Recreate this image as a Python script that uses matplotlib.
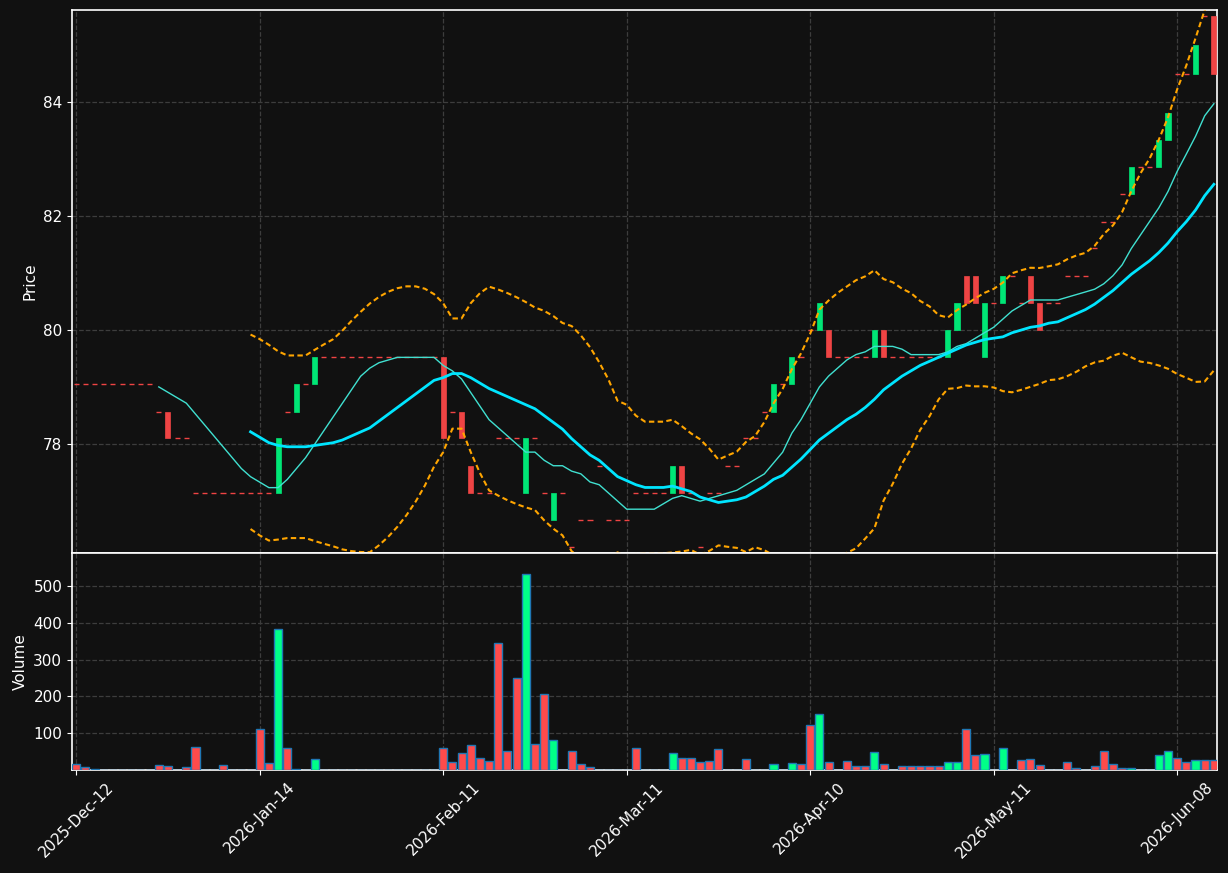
import numpy as np
import pandas as pd
import matplotlib
matplotlib.use("Agg")
import matplotlib.pyplot as plt
from matplotlib.patches import Rectangle

# trading calendar (weekdays minus exchange holidays)
start_date = "2025-12-12"
end_date = "2026-06-12"
holidays = ["2025-12-25", "2025-12-26", "2026-01-01", "2026-04-03", "2026-04-06", "2026-05-01"]

# prices, one row per 10 sessions
closes = [
    79.05, 79.05, 79.05, 79.05, 79.05, 79.05, 79.05, 79.05, 79.05, 78.57,
    78.10, 78.10, 78.10, 77.14, 77.14, 77.14, 77.14, 77.14, 77.14, 77.14,
    77.14, 77.14, 78.10, 78.57, 79.05, 79.05, 79.52, 79.52, 79.52, 79.52,
    79.52, 79.52, 79.52, 79.52, 79.52, 79.52, 79.52, 79.52, 79.52, 79.52,
    78.10, 78.57, 78.10, 77.14, 77.14, 77.14, 78.10, 78.10, 78.10, 78.10,
    78.10, 77.14, 77.14, 77.14, 76.19, 76.67, 76.67, 77.62, 76.67, 76.67,
    76.67, 77.14, 77.14, 77.14, 77.14, 77.62, 77.14, 77.14, 76.19, 77.14,
    77.14, 77.62, 77.62, 78.10, 78.10, 78.57, 79.05, 79.05, 79.52, 79.52,
    80.00, 80.48, 79.52, 79.52, 79.52, 79.52, 79.52, 80.00, 79.52, 79.52,
    79.52, 79.52, 79.52, 79.52, 79.52, 80.00, 80.48, 80.48, 80.48, 80.48,
    80.48, 80.95, 80.95, 80.48, 80.48, 80.00, 80.48, 80.48, 80.95, 80.95,
    80.95, 81.43, 81.90, 81.90, 82.38, 82.86, 82.86, 82.86, 83.33, 83.81,
    84.48, 84.48, 85.00, 85.50, 84.48,
]
opens = [
    79.05, 79.05, 79.05, 79.05, 79.05, 79.05, 79.05, 79.05, 79.05, 78.57,
    78.57, 78.10, 78.10, 77.14, 77.14, 77.14, 77.14, 77.14, 77.14, 77.14,
    77.14, 77.14, 77.14, 78.57, 78.57, 79.05, 79.05, 79.52, 79.52, 79.52,
    79.52, 79.52, 79.52, 79.52, 79.52, 79.52, 79.52, 79.52, 79.52, 79.52,
    79.52, 78.57, 78.57, 77.62, 77.14, 77.14, 78.10, 78.10, 78.10, 77.14,
    78.10, 77.14, 76.67, 77.14, 76.19, 76.67, 76.67, 77.62, 76.67, 76.67,
    76.67, 77.14, 77.14, 77.14, 77.14, 77.14, 77.62, 77.14, 76.19, 77.14,
    77.14, 77.62, 77.62, 78.10, 78.10, 78.57, 78.57, 79.05, 79.05, 79.52,
    80.00, 80.00, 80.00, 79.52, 79.52, 79.52, 79.52, 79.52, 80.00, 79.52,
    79.52, 79.52, 79.52, 79.52, 79.52, 79.52, 80.00, 80.95, 80.95, 79.52,
    80.48, 80.48, 80.95, 80.48, 80.95, 80.48, 80.48, 80.48, 80.95, 80.95,
    80.95, 81.43, 81.90, 81.90, 82.38, 82.38, 82.86, 82.86, 82.86, 83.33,
    84.48, 84.48, 84.48, 85.50, 85.50,
]
volumes = [
    16, 7, 4, 0, 0, 0, 0, 0, 0, 13,
    10, 1, 8, 62, 0, 0, 13, 0, 0, 0,
    111, 19, 383, 59, 4, 0, 30, 0, 0, 0,
    0, 0, 0, 1, 0, 0, 0, 1, 0, 0,
    59, 21, 46, 67, 32, 24, 344, 51, 249, 533,
    70, 206, 81, 1, 51, 16, 8, 1, 1, 0,
    0, 59, 0, 0, 0, 46, 32, 32, 21, 24,
    56, 0, 0, 30, 0, 1, 16, 0, 19, 16,
    122, 151, 21, 1, 24, 10, 10, 48, 16, 0,
    10, 10, 10, 10, 10, 21, 21, 111, 40, 43,
    1, 59, 1, 27, 30, 13, 0, 0, 21, 5,
    1, 10, 51, 16, 5, 5, 0, 0, 40, 53,
    32, 21, 27, 27, 27,
]

dates = pd.bdate_range(start_date, end_date, freq="C", holidays=holidays)
df = pd.DataFrame({"Open": opens, "Close": closes, "Volume": volumes}, index=dates)
df["ma10"] = df["Close"].rolling(10).mean()
df["ma20"] = df["Close"].rolling(20).mean()
std20 = df["Close"].rolling(20).std(ddof=0)
df["bb_up"] = df["ma20"] + 2 * std20
df["bb_lo"] = df["ma20"] - 2 * std20

BG = "#111111"
UP, DOWN = "#00e676", "#ef4444"
VUP, VDOWN = "#00ff88", "#ff4b4b"
GRID = "#3d3d3d"

fig = plt.figure(figsize=(12.28, 8.73), dpi=100, facecolor=BG)
W, H = 1228, 873
ax1 = fig.add_axes([72 / W, (H - 553) / H, 1145 / W, 543 / H])
ax2 = fig.add_axes([72 / W, (H - 770) / H, 1145 / W, 217 / H], sharex=ax1)

x = np.arange(len(df))
up = df["Close"].values > df["Open"].values
body_w = 0.55

for i in x:
    o, c = df["Open"].iat[i], df["Close"].iat[i]
    col = UP if up[i] else DOWN
    if o == c:
        ax1.hlines(c, i - body_w / 2, i + body_w / 2, color=col, lw=1.0, zorder=3)
    else:
        lo = min(o, c)
        ax1.add_patch(Rectangle((i - body_w / 2, lo), body_w, abs(c - o),
                                facecolor=col, edgecolor=col, lw=0.5, zorder=3))

ax1.plot(x, df["ma10"], color="#40e0d0", lw=1.0, zorder=4)
ax1.plot(x, df["ma20"], color="#00e5ff", lw=2.0, zorder=4)
ax1.plot(x, df["bb_up"], color="#ffa500", lw=1.5, dashes=(2.6, 1.6), zorder=4)
ax1.plot(x, df["bb_lo"], color="#ffa500", lw=1.5, dashes=(2.6, 1.6), zorder=4)

vcols = [VUP if u else VDOWN for u in up]
ax2.bar(x, df["Volume"], width=0.88, color=vcols, edgecolor="#1f77b4", linewidth=1.0, zorder=3)

for ax in (ax1, ax2):
    ax.set_facecolor(BG)
    ax.grid(True, color=GRID, linestyle="--", linewidth=0.9)
    ax.set_axisbelow(True)
    for s in ax.spines.values():
        s.set_color("white")
        s.set_linewidth(1.2)
    ax.tick_params(colors="white", labelsize=11)

ax1.set_xlim(-0.46, 124.34)
ax1.set_ylim(76.09, 85.61)
ax1.set_yticks([78, 80, 82, 84])
ax1.set_ylabel("Price", color="white", fontsize=11)
ax1.tick_params(axis="x", labelbottom=False, length=0)

ax2.set_ylim(0, 590)
ax2.set_yticks([100, 200, 300, 400, 500])
ax2.set_ylabel("Volume", color="white", fontsize=11)
tick_idx = list(range(0, len(df), 20))
ax2.set_xticks(tick_idx)
ax2.set_xticklabels([df.index[i].strftime("%Y-%b-%d") for i in tick_idx],
                    rotation=45, ha="center")

fig.savefig("out.png", dpi=100, facecolor=BG)
